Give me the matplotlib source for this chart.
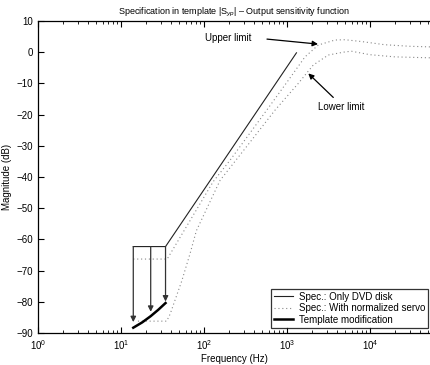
import numpy as np
import matplotlib
matplotlib.use("Agg")
import matplotlib.pyplot as plt
from matplotlib.ticker import LogLocator, LogFormatterMathtext, NullFormatter

plt.rcParams['font.family'] = ['Liberation Sans', 'DejaVu Sans']
plt.rcParams['mathtext.fontset'] = 'custom'
plt.rcParams['mathtext.rm'] = 'Liberation Sans'
plt.rcParams['mathtext.it'] = 'Liberation Sans:italic'

# Spec.: Only DVD disk (solid)
dvd_f = [14.06, 34.4, 1300]
dvd_db = [-62.3, -62.3, -0.2]

# Spec.: With normalized servo - upper limit (dotted)
up_f = [14.06, 36, 129, 205, 569, 1038, 1648, 2382, 3784, 5000, 8000, 15000, 30000, 53000]
up_db = [-66.3, -66.3, -41.5, -34.7, -18.6, -9.0, -1.5, 2.3, 3.9, 4.0, 3.4, 2.4, 1.9, 1.7]

# lower limit (dotted)
lo_f = [16, 35.5, 39, 54, 68, 81, 156, 312, 716, 1368, 2075, 3148, 5012, 6000, 10000, 20000, 53000]
lo_db = [-86.2, -86.2, -84.0, -73.3, -64.5, -57.2, -41.1, -30.9, -18.6, -10.0, -4.1, -0.9, 0.1, 0.3, -0.8, -1.5, -1.8]

# Template modification (thick)
tm_f = [14.06, 18, 22.8, 28, 34.4]
tm_db = [-88.3, -86.6, -84.6, -82.6, -80.4]

# vertical arrows
arr_f = [14.06, 22.8, 34.4]
arr_top = -62.3
arr_tip = [-86.5, -83.2, -79.9]

fig = plt.figure(figsize=(4.3, 3.65), dpi=100)
ax = fig.add_axes([38/430, 32/365, 392/430, 312/365])

ax.semilogx(dvd_f, dvd_db, color='#222222', lw=0.8, label='Spec.: Only DVD disk')
ax.semilogx(up_f, up_db, color='#888888', lw=0.8, ls=(0, (1, 2.5)),
            label='Spec.: With normalized servo')
ax.semilogx(lo_f, lo_db, color='#888888', lw=0.8, ls=(0, (1, 2.5)))
ax.semilogx(tm_f, tm_db, color='black', lw=1.8, label='Template modification')

for f, tip in zip(arr_f, arr_tip):
    ax.annotate('', xy=(f, tip), xytext=(f, arr_top),
                arrowprops=dict(arrowstyle='-|>', color='#333333', lw=0.9,
                                mutation_scale=8, shrinkA=0, shrinkB=0))

ax.annotate('', xy=(2362, 2.6), xytext=(574, 4.2),
            arrowprops=dict(arrowstyle='-|>', color='black', lw=0.9,
                            mutation_scale=8, shrinkA=0, shrinkB=0))
ax.text(194, 4.6, 'Upper limit', fontsize=7, ha='center', va='center')
ax.annotate('', xy=(1805, -6.8), xytext=(3612, -14.5),
            arrowprops=dict(arrowstyle='-|>', color='black', lw=0.9,
                            mutation_scale=8, shrinkA=0, shrinkB=0))
ax.text(4560, -17.7, 'Lower limit', fontsize=7, ha='center', va='center')

ax.set_xlim(1, 10**4.723)
ax.set_ylim(-90, 10)
ax.set_yticks(np.arange(-90, 11, 10))
ax.xaxis.set_major_locator(LogLocator(base=10, numticks=10))
ax.xaxis.set_major_formatter(LogFormatterMathtext())
ax.xaxis.set_minor_locator(LogLocator(base=10, subs=np.arange(2, 10), numticks=20))
ax.xaxis.set_minor_formatter(NullFormatter())

ax.spines['right'].set_visible(False)
for s in ['left', 'top', 'bottom']:
    ax.spines[s].set_linewidth(0.9)
ax.tick_params(which='both', direction='in', top=True, right=False, labelsize=7)
ax.tick_params(which='major', length=4)
ax.tick_params(which='minor', length=2)

ax.set_title('Specification in template |S$_{yp}$| \u2013 Output sensitivity function',
             fontsize=6.5, pad=5)
ax.set_xlabel('Frequency (Hz)', fontsize=7, labelpad=2)
ax.set_ylabel('Magnitude (dB)', fontsize=7, labelpad=3)

leg = ax.legend(loc='lower right', bbox_to_anchor=(0.996, 0.017), borderaxespad=0,
                fontsize=7, frameon=True, fancybox=False, handlelength=2.0,
                borderpad=0.3, labelspacing=0.15, handletextpad=0.6)
leg.get_frame().set_edgecolor('black')
leg.get_frame().set_linewidth(0.9)

fig.savefig('out.png', dpi=100)
